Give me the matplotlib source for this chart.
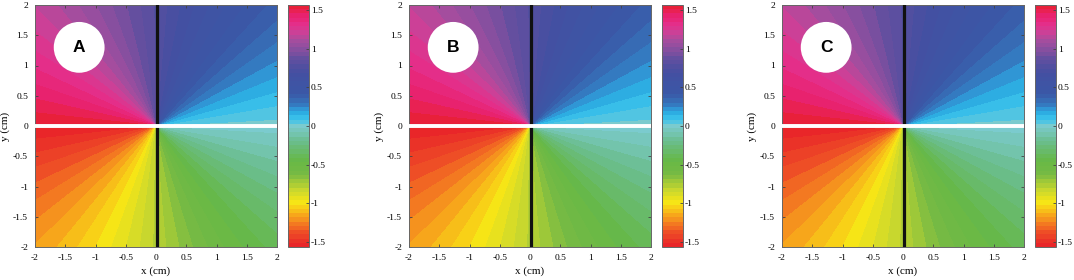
import numpy as np
import matplotlib
matplotlib.use("Agg")
import matplotlib.pyplot as plt
from matplotlib.colors import LinearSegmentedColormap
from matplotlib.patches import Circle

plt.rcParams["font.family"] = ["Liberation Serif", "DejaVu Serif"]
plt.rcParams["axes.unicode_minus"] = False

# panel labels
panels = ["A", "B", "C"]

# phase read along rays from the origin (polar angle in degrees -> value)
ray_angle_deg = [-180, -150, -120, -90, -60, -30, 0, 30, 60, 90, 120, 150, 180]
ray_phase = [-1.57, -1.31, -1.05, -0.79, -0.52, -0.26, 0.0, 0.26, 0.52, 0.79, 1.05, 1.31, 1.57]

# colour scale
cmap_values = [-1.5708, -1.38, -1.18, -1.0, -0.85, -0.62, -0.45, -0.2, 0.0,
               0.08, 0.15, 0.22, 0.3, 0.42, 0.7, 0.88, 1.0, 1.12, 1.22, 1.32, 1.45, 1.5708]
cmap_colors = ["#e8202a", "#ee4f26", "#f7a01c", "#f8e615", "#cfd92c", "#76ba44",
               "#66b846", "#6abd8c", "#7ccbd0", "#3ec3ea", "#2cb4e6", "#3094d4",
               "#3670b8", "#3a58a6", "#454fa1", "#644f9f", "#8a4f9f", "#a84d9e",
               "#cf3f96", "#e42e8a", "#e9216a", "#e8202e"]

cbar_ticks = [-1.5, -1, -0.5, 0, 0.5, 1, 1.5]
axis_ticks = [-2, -1.5, -1, -0.5, 0, 0.5, 1, 1.5, 2]

W, H = 1074, 280
ax_left = [35, 409, 782]
cb_left = [288, 662, 1035]
ax_w, ax_top, ax_bot = 242, 5, 247
cb_w = 21

lo, hi = cmap_values[0], cmap_values[-1]
cmap = LinearSegmentedColormap.from_list(
    "phase", [((v - lo) / (hi - lo), c) for v, c in zip(cmap_values, cmap_colors)])

x = np.linspace(-2, 2, 700)
X, Y = np.meshgrid(x, x)
theta = np.degrees(np.arctan2(Y, X))
Z = np.interp(theta, ray_angle_deg, ray_phase)
levels = np.linspace(lo, hi, 58)

fig = plt.figure(figsize=(W / 100, H / 100), dpi=100)

def fmt(v):
    return ("%g" % v)

for i, lab in enumerate(panels):
    ax = fig.add_axes([ax_left[i] / W, 1 - ax_bot / H, ax_w / W, (ax_bot - ax_top) / H])
    cf = ax.contourf(X, Y, Z, levels=levels, cmap=cmap, vmin=lo, vmax=hi)
    ax.axvline(0.02, color="#111111", lw=2.3, zorder=3)
    ax.axhline(0, color="white", lw=2.8, zorder=4)
    ax.add_patch(Circle((-1.27, 1.3), 0.42, facecolor="white", edgecolor="none", zorder=5))
    ax.text(-1.27, 1.3, lab, ha="center", va="center", fontsize=12.5, fontweight="bold",
            family="Liberation Sans", zorder=6)
    ax.set_xlim(-2, 2)
    ax.set_ylim(-2, 2)
    ax.set_xticks(axis_ticks)
    ax.set_yticks(axis_ticks)
    ax.set_xticklabels([fmt(v) for v in axis_ticks])
    ax.set_yticklabels([fmt(v) for v in axis_ticks])
    ax.tick_params(direction="in", length=2.5, width=0.6, labelsize=6.8,
                   top=True, right=True, pad=5, color="#444444")
    for s in ax.spines.values():
        s.set_color("#666666")
        s.set_linewidth(0.7)
    ax.set_xlabel("x (cm)", fontsize=8, labelpad=3)
    ax.set_ylabel("y (cm)", fontsize=8, labelpad=2)

    cax = fig.add_axes([cb_left[i] / W, 1 - ax_bot / H, cb_w / W, (ax_bot - ax_top) / H])
    cb = fig.colorbar(cf, cax=cax, ticks=cbar_ticks)
    cb.ax.set_yticklabels([fmt(v) for v in cbar_ticks])
    cb.ax.tick_params(direction="in", length=2, width=0.6, labelsize=6.8, pad=1.5,
                      color="#444444")
    cb.outline.set_edgecolor("#666666")
    cb.outline.set_linewidth(0.7)

fig.savefig("out.png", dpi=100)
